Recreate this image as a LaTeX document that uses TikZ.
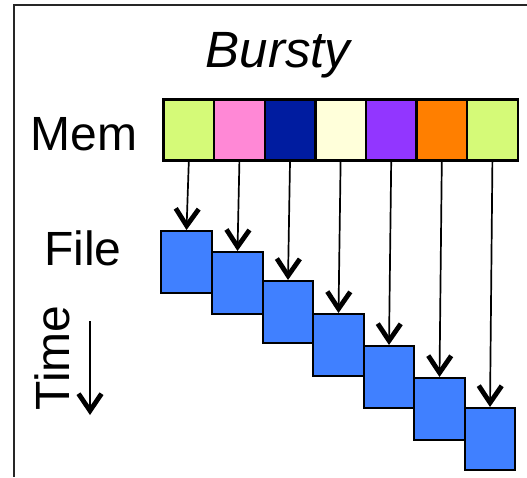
\documentclass[tikz,border=0pt]{standalone}
\usepackage{fontspec}
\setmainfont{Liberation Sans}
\usepackage{xcolor}
\usetikzlibrary{arrows.meta}

\definecolor{memlime}{HTML}{D5FA78}
\definecolor{mempink}{HTML}{FF88D6}
\definecolor{memnavy}{HTML}{001CA0}
\definecolor{memcream}{HTML}{FFFFDA}
\definecolor{mempurple}{HTML}{9236FF}
\definecolor{memorange}{HTML}{FF7F00}
\definecolor{fileblue}{HTML}{4080FF}

\begin{document}
\begin{tikzpicture}[
  x=1pt, y=-1pt,
  cell/.style={draw, line width=2.4pt, inner sep=0pt, minimum width=50.6pt, minimum height=61pt, fill=#1},
  fbox/.style={draw, line width=2pt, inner sep=0pt, minimum width=50.6pt, minimum height=61.5pt, fill=fileblue},
  lbl/.style={font=\fontsize{48}{56}\selectfont, inner sep=0pt, anchor=base},
  link/.style={line width=1.7pt, -{Straight Barb[length=17pt, width=23pt, line width=4.8pt]}}
]
  \useasboundingbox (0,0) rectangle (527,477);
  \draw[line width=1.6pt, black!85] (527,5) -- (14,5) -- (14,477);

  \node[lbl, font=\fontsize{51}{58}\selectfont\itshape] (title) at (278,67) {Bursty};
  \node[lbl] (mem) at (84,150.6) {Mem};
  \node[lbl] (file) at (83,265) {File};
  \node[lbl, rotate=90] (time) at (69,358) {Time};

  \node[cell=memlime] (m1) at (188.8,130) {};
  \node[cell=mempink] (m2) at (239.4,130) {};
  \node[cell=memnavy] (m3) at (290.0,130) {};
  \node[cell=memcream] (m4) at (340.6,130) {};
  \node[cell=mempurple] (m5) at (391.2,130) {};
  \node[cell=memorange] (m6) at (441.8,130) {};
  \node[cell=memlime] (m7) at (492.4,130) {};

  \node[fbox] (f1) at (186.5,261.75) {};
  \node[fbox] (f2) at (237.5,282.75) {};
  \node[fbox] (f3) at (288.0,311.75) {};
  \node[fbox] (f4) at (338.5,344.75) {};
  \node[fbox] (f5) at (389.0,376.75) {};
  \node[fbox] (f6) at (439.5,408.75) {};
  \node[fbox] (f7) at (490.0,438.75) {};

  \draw[link] (m1.south) -- (f1.north);
  \draw[link] (m2.south) -- (f2.north);
  \draw[link] (m3.south) -- (f3.north);
  \draw[link] (m4.south) -- (f4.north);
  \draw[link] (m5.south) -- (f5.north);
  \draw[link] (m6.south) -- (f6.north);
  \draw[link] (m7.south) -- (f7.north);

  \coordinate (t0) at (90,321);
  \coordinate (t1) at (90,415);
  \draw[link] (t0) -- (t1);
\end{tikzpicture}
\end{document}
